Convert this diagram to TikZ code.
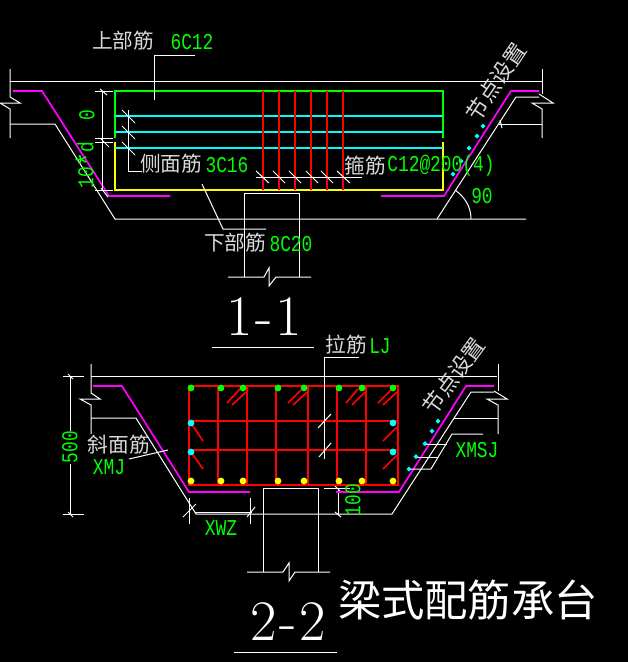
\documentclass[tikz,border=0pt]{standalone}
\usepackage{fontspec}
\newfontfamily\cnfont{Noto Sans CJK SC}
\newfontfamily\cadfont[FakeStretch=0.79]{Liberation Mono}
\tikzset{
  wire/.style={color=white,line width=0.75pt},
  rebarred/.style={color=red,line width=1.3pt},
  rebargreen/.style={color=green,line width=1.3pt},
  rebaryellow/.style={color={rgb, 255:red, 255; green, 255; blue, 0 },line width=1.3pt},
  rebarcyan/.style={color={rgb, 255:red, 0; green, 255; blue, 255 },line width=1.3pt},
  cover/.style={color={rgb, 255:red, 255; green, 0; blue, 255 },line width=1.3pt},
  dotcyan/.style={fill={rgb, 255:red, 0; green, 255; blue, 255 }},
  dotyellow/.style={fill={rgb, 255:red, 255; green, 255; blue, 0 }},
  labelcn/.style={inner sep=0.75pt,text=white!85!black,font=\cnfont\fontsize{15.5}{16}\selectfont},
  labelslope/.style={inner sep=0.75pt,text=white!85!black,font=\cnfont\fontsize{16.5}{17}\selectfont},
  labelnum/.style={inner sep=0.75pt,text=green,font=\cadfont\fontsize{17}{18}\selectfont},
  labeltitle/.style={inner sep=0.75pt,text=white,font=\rmfamily\fontsize{43}{45}\selectfont},
}
\begin{document}
\begin{tikzpicture}[x=0.75pt,y=0.75pt,yscale=-1,xscale=1]
\useasboundingbox (0,0) rectangle (628,662);
\fill [black] (0,0) rectangle (628,662);

%Section 1-1 outline
\draw [wire] (10,81) -- (543,81) ;
\draw [wire] (10,69) -- (10,97) -- (20,103) -- (0,103) -- (10,109) -- (10,138) ;
\draw [wire] (10,124) -- (55,124) -- (115,219) -- (526,219) ;
\draw [wire] (437,219) -- (516,97) -- (539,97) ;
\draw [wire] (542,69) -- (542,94) ;
\draw [wire] (539,94) -- (553,103) -- (532,103) -- (542,109) -- (542,138) ;
\draw [wire] (498,124) -- (542,124) ;
\draw [wire] (500,120) -- (502,128) ;
%Angle arc
\draw [wire] (455,190) .. controls (465,197) and (471,207) .. (471,219) ;
%Column 1
\draw [wire] (244,277) -- (244,193) -- (299,193) -- (299,277) ;
\draw [wire] (228,277) -- (264,277) -- (269,268) -- (269,286) -- (276,277) -- (311,277) ;
\draw [wire] (212,347) -- (314,347) ;

%Cover line
\draw [cover] (13,91) -- (42,91) -- (109,196) -- (170,196) ;
\draw [cover] (381,196) -- (444,196) -- (511,91) -- (539,91) ;

%Bars
\draw [rebargreen] (115,138) -- (115,91) -- (443,91) -- (443,138) ;
\draw [rebaryellow] (115,142) -- (115,190) -- (443,190) -- (443,142) ;
\draw [rebarcyan] (115,116) -- (443,116) ;
\draw [rebarcyan] (115,132) -- (443,132) ;
\draw [rebarcyan] (115,148) -- (443,148) ;
\draw [rebarred] (263,91) -- (263,190) ;
\draw [rebarred] (279,91) -- (279,190) ;
\draw [rebarred] (295,91) -- (295,190) ;
\draw [rebarred] (311,91) -- (311,190) ;
\draw [rebarred] (327,91) -- (327,190) ;
\draw [rebarred] (343,91) -- (343,190) ;

%Side dots
\fill [dotcyan] (483,123.5) -- (485.5,126) -- (483,128.5) -- (480.5,126) -- cycle ;
\fill [dotcyan] (477,133.5) -- (479.5,136) -- (477,138.5) -- (474.5,136) -- cycle ;
\fill [dotcyan] (469,145.5) -- (471.5,148) -- (469,150.5) -- (466.5,148) -- cycle ;
\fill [dotcyan] (461,158.5) -- (463.5,161) -- (461,163.5) -- (458.5,161) -- cycle ;
\fill [dotcyan] (453,171.5) -- (455.5,174) -- (453,176.5) -- (450.5,174) -- cycle ;

%Dimension 0 and 10*d
\draw [wire] (102,91) -- (102,190) ;
\draw [wire] (95,91) -- (113,91) ;
\draw [wire] (95,138) -- (113,138) ;
\draw [wire] (95,142) -- (113,142) ;
\draw [wire] (95,190) -- (113,190) ;
\draw [wire] (100,89) -- (107,95) ;
\draw [wire] (100,138) -- (109,147) ;
\draw [wire] (101,188) -- (108,197) ;

%Leaders
\draw [wire] (195,55) -- (154,55) -- (154,100) ;
\draw [wire] (128,110) -- (128,171) -- (142,171) ;
\draw [wire] (122,110) -- (135,123) ;
\draw [wire] (122,126) -- (135,139) ;
\draw [wire] (122,142) -- (135,155) ;
\draw [wire] (256,177) -- (362,177) ;
\draw [wire] (256,171) -- (269,183) ;
\draw [wire] (273,171) -- (285,183) ;
\draw [wire] (289,171) -- (301,183) ;
\draw [wire] (306,171) -- (318,183) ;
\draw [wire] (321,171) -- (333,183) ;
\draw [wire] (337,171) -- (350,183) ;
\draw [wire] (202,184) -- (223,229) -- (266,229) ;

%Section 2-2 outline
\draw [wire] (91,376) -- (497,376) ;
\draw [wire] (91,364) -- (91,393) -- (100,399) -- (80,399) -- (91,405) -- (91,434) ;
\draw [wire] (91,418) -- (136,418) -- (196,514) -- (392,514) -- (471,392) -- (494,392) ;
\draw [wire] (498,364) -- (498,391) ;
\draw [wire] (494,391) -- (507,399) -- (487,399) -- (498,405) -- (498,434) ;
\draw [wire] (454,418) -- (498,418) ;
%Column 2
\draw [wire] (263,572) -- (263,488) -- (318,488) -- (318,572) ;
\draw [wire] (247,572) -- (283,572) -- (289,563) -- (289,581) -- (295,572) -- (330,572) ;
\draw [wire] (234,652) -- (337,652) ;

%Dimension 500
\draw [wire] (63,376) -- (84,376) ;
\draw [wire] (63,514) -- (84,514) ;
\draw [wire] (70,376) -- (70,431) ;
\draw [wire] (70,464) -- (70,514) ;
\draw [wire] (68,374) -- (73,379) ;
\draw [wire] (68,512) -- (73,517) ;
%Dimension XWZ
\draw [wire] (189,498) -- (189,524) ;
\draw [wire] (250,498) -- (250,524) ;
\draw [wire] (195,512) -- (252,512) ;
\draw [wire] (195,512) -- (195,514) ;
\draw [wire] (183,517) -- (196,504) ;
\draw [wire] (247,517) -- (255,507) ;
%Dimension 100
\draw [wire] (324,488) -- (350,488) ;
\draw [wire] (338,488) -- (338,514) ;
\draw [wire] (335,486) -- (340,491) ;
\draw [wire] (335,512) -- (341,517) ;

%Cover line
\draw [cover] (93,386) -- (122,386) -- (189,492) -- (250,492) ;
\draw [cover] (336,492) -- (399,492) -- (466,386) -- (494,386) ;

%Stirrup grid
\draw [rebarred] (189,386) rectangle (398,485) ;
\draw [rebarred] (189,421) -- (398,421) ;
\draw [rebarred] (189,450) -- (398,450) ;
\draw [rebarred] (218,386) -- (218,485) ;
\draw [rebarred] (247,386) -- (247,485) ;
\draw [rebarred] (276,386) -- (276,485) ;
\draw [rebarred] (308,386) -- (308,485) ;
\draw [rebarred] (337,386) -- (337,485) ;
\draw [rebarred] (366,386) -- (366,485) ;
%Hooks
\draw [rebarred] (227,403) -- (240,389) ;
\draw [rebarred] (232,405) -- (246,392) ;
\draw [rebarred] (288,403) -- (301,390) ;
\draw [rebarred] (293,405) -- (307,392) ;
\draw [rebarred] (346,403) -- (358,389) ;
\draw [rebarred] (352,405) -- (365,392) ;
\draw [rebarred] (378,403) -- (391,390) ;
\draw [rebarred] (383,405) -- (397,392) ;
\draw [rebarred] (191,423) -- (203,441) ;
\draw [rebarred] (191,452) -- (203,469) ;
\draw [rebarred] (383,441) -- (397,427) ;
\draw [rebarred] (383,469) -- (397,455) ;

%Corner bars
\fill [green] (191,388) circle (3.4) (221,388) circle (3.4) (243,388) circle (3.4) (278,388) circle (3.4) (304,388) circle (3.4) (339,388) circle (3.4) (362,388) circle (3.4) (393,388) circle (3.4) ;
\fill [dotyellow] (191,481) circle (3.4) (221,481) circle (3.4) (243,481) circle (3.4) (278,481) circle (3.4) (304,481) circle (3.4) (339,481) circle (3.4) (362,481) circle (3.4) (393,481) circle (3.4) ;
\fill [dotcyan] (191,423) circle (3.4) (191,452) circle (3.4) (393,423) circle (3.4) (393,452) circle (3.4) ;

%Side dots and XMSJ
\draw [wire] (483,434) -- (452,434) -- (431,469) -- (409,469) ;
\draw [wire] (425,444) -- (447,444) ;
\draw [wire] (416,457) -- (438,457) ;
\fill [dotcyan] (438,418.5) -- (440.5,421) -- (438,423.5) -- (435.5,421) -- cycle ;
\fill [dotcyan] (432,428.5) -- (434.5,431) -- (432,433.5) -- (429.5,431) -- cycle ;
\fill [dotcyan] (425,441) -- (427.5,443.5) -- (425,446) -- (422.5,443.5) -- cycle ;
\fill [dotcyan] (416,454) -- (418.5,456.5) -- (416,459) -- (413.5,456.5) -- cycle ;
\fill [dotcyan] (409,466.5) -- (411.5,469) -- (409,471.5) -- (406.5,469) -- cycle ;

%Leaders
\draw [wire] (359,357) -- (324,357) -- (324,459) ;
\draw [wire] (318,428) -- (331,414) ;
\draw [wire] (319,457) -- (331,443) ;
\draw [wire] (129,459) -- (168,450) ;

% Text Node
\draw (123,41) node (lbltop) [labelcn] {上部筋};
% Text Node
\draw (192,42) node (numtop) [labelnum] {6C12};
% Text Node
\draw (87,115) node (numzero) [labelnum,rotate=90] {0};
% Text Node
\draw (87,165) node (numanchor) [labelnum,rotate=90] {10\raisebox{-4pt}{\fontsize{24}{24}\selectfont *}d};
% Text Node
\draw (171,164) node (lblside) [labelcn] {侧面筋};
% Text Node
\draw (227,165) node (numside) [labelnum] {3C16};
% Text Node
\draw (365,166) node (lblhoop) [labelcn] {箍筋};
% Text Node
\draw (441,166) node (numhoop) [labelnum] {C12@200(4)};
% Text Node
\draw (482,196) node (numangle) [labelnum] {90};
% Text Node
\draw (496,82) node (lblnodea) [labelslope,rotate=56] {节点设置};
% Text Node
\draw (235,243) node (lblbottom) [labelcn] {下部筋};
% Text Node
\draw (291,244) node (numbottom) [labelnum] {8C20};
% Text Node
\draw (264,317) node (titlea) [labeltitle] {1\kern2pt-\kern2pt 1};
% Text Node
\draw (346,345) node (lbltie) [labelcn] {拉筋};
% Text Node
\draw (380,346) node (numtie) [labelnum] {LJ};
% Text Node
\draw (454,376) node (lblnodeb) [labelslope,rotate=54] {节点设置};
% Text Node
\draw (70,447) node (numheight) [labelnum,rotate=90] {500};
% Text Node
\draw (119,445) node (lblslant) [labelcn] {斜面筋};
% Text Node
\draw (109,467) node (numslant) [labelnum] {XMJ};
% Text Node
\draw (221,528) node (numxwz) [labelnum] {XWZ};
% Text Node
\draw (353,500) node (numhundred) [labelnum,rotate=90] {100};
% Text Node
\draw (477,450) node (numxmsj) [labelnum] {XMSJ};
% Text Node
\draw (288,622) node (titleb) [labeltitle] {2\kern2pt-\kern2pt 2};
% Text Node
\draw (468,600) node (titlecn) [inner sep=0.75pt,text=white,font=\cnfont\fontsize{32.5}{34}\selectfont] {梁式配筋承台};

\end{tikzpicture}
\end{document}
